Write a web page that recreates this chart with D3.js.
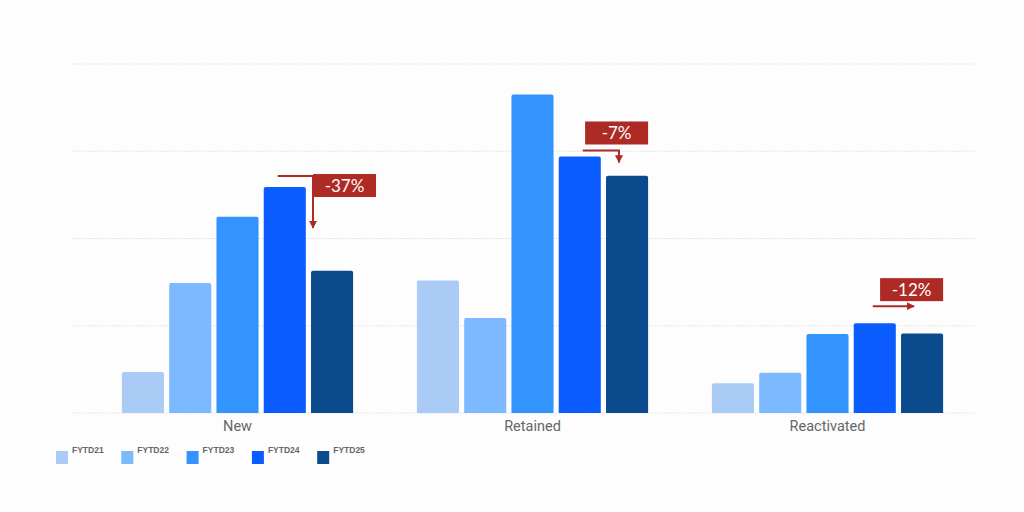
<!DOCTYPE html>
<html>
<head>
<meta charset="utf-8">
<script src="https://cdn.jsdelivr.net/npm/d3@7"></script>
<style>
  html, body { margin: 0; padding: 0; background: #fdfdfd; }
  #chart { width: 1024px; height: 512px; }
</style>
</head>
<body>
<div id="chart"></div>
<script>
// Grouped bars: customer counts by type, five fiscal years, with YoY callouts.
var categories = ['New', 'Retained', 'Reactivated'];
var seriesNames = ['FYTD21', 'FYTD22', 'FYTD23', 'FYTD24', 'FYTD25'];
var seriesColors = ['#a9cbf5', '#7cb9ff', '#3393ff', '#0a5cff', '#0b4a8c'];

// one array per series, in category order
var fytd21 = [0.47, 1.52, 0.34];
var fytd22 = [1.49, 1.09, 0.46];
var fytd23 = [2.25, 3.65, 0.905];
var fytd24 = [2.59, 2.94, 1.03];
var fytd25 = [1.63, 2.72, 0.91];
var seriesValues = [fytd21, fytd22, fytd23, fytd24, fytd25];

var gridTicks = [0, 1, 2, 3, 4];

// change callouts, FYTD24 -> FYTD25
var calloutLabels = ['-37%', '-7%', '-12%'];
var calloutKinds = ['down', 'down', 'right'];

(function () {
    var W = 1024, H = 512;
    var svg = d3.select('#chart').append('svg')
        .attr('width', W).attr('height', H);

    var baseY = 413, topY = 64;
    var y = d3.scaleLinear().domain([0, 4]).range([baseY, topY]);
    var x0 = d3.scaleBand().domain(categories).range([90, 975]);
    var innerW = 47.3 * 4 + 42;
    var x1 = d3.scaleBand().domain(seriesNames)
        .range([x0.bandwidth() / 2 - innerW / 2, x0.bandwidth() / 2 + innerW / 2])
        .paddingInner(0.11);

    // dotted gridlines
    svg.append('g').selectAll('line')
        .data(gridTicks)
        .join('line')
        .attr('x1', 73).attr('x2', 975)
        .attr('y1', function (d) { return y(d); })
        .attr('y2', function (d) { return y(d); })
        .attr('stroke', '#dedede')
        .attr('stroke-width', 1)
        .attr('stroke-dasharray', '1.5,1.5');

    // bars
    var groups = svg.append('g').selectAll('g')
        .data(categories)
        .join('g')
        .attr('transform', function (d) { return 'translate(' + x0(d) + ',0)'; });

    groups.selectAll('path')
        .data(function (c, ci) {
            return seriesNames.map(function (s, si) {
                return { s: s, v: seriesValues[si][ci], color: seriesColors[si] };
            });
        })
        .join('path')
        .attr('fill', function (d) { return d.color; })
        .attr('d', function (d) {
            var bx = x1(d.s), bw = x1.bandwidth();
            var by = y(d.v), r = 2;
            return 'M' + bx + ',' + baseY +
                'V' + (by + r) +
                'Q' + bx + ',' + by + ' ' + (bx + r) + ',' + by +
                'H' + (bx + bw - r) +
                'Q' + (bx + bw) + ',' + by + ' ' + (bx + bw) + ',' + (by + r) +
                'V' + baseY + 'Z';
        });

    // category labels
    svg.append('g').selectAll('text')
        .data(categories)
        .join('text')
        .attr('x', function (d) { return x0(d) + x0.bandwidth() / 2; })
        .attr('y', 431)
        .attr('text-anchor', 'middle')
        .attr('font-family', 'Roboto, "Noto Sans", sans-serif')
        .attr('font-size', 14.5)
        .attr('fill', '#666')
        .text(function (d) { return d; });

    // callouts
    var red = '#ad2a25';
    var defs = svg.append('defs');
    defs.append('marker')
        .attr('id', 'ah')
        .attr('viewBox', '0 0 10 10')
        .attr('refX', 9).attr('refY', 5)
        .attr('markerWidth', 4).attr('markerHeight', 4)
        .attr('orient', 'auto')
        .append('path').attr('d', 'M0,0L10,5L0,10Z').attr('fill', red);

    var cg = svg.append('g');
    categories.forEach(function (c, i) {
        var gx = x0(c);
        var b24 = gx + x1('FYTD24'), b25 = gx + x1('FYTD25');
        var bw = x1.bandwidth();
        var top24 = y(fytd24[i]);
        var label = calloutLabels[i];
        var boxW = 63, boxH = 23;
        var lineY, pts, bx, by;
        if (calloutKinds[i] === 'down' && i === 0) {
            lineY = top24 - 11;
            var vx = b25 + 2;
            pts = [[b24 + 14, lineY], [vx, lineY], [vx, lineY + 52]];
            bx = vx; by = lineY - 2;
        } else if (calloutKinds[i] === 'down') {
            lineY = top24 - 6;
            var vx2 = b25 + 13;
            pts = [[b24 + 24, lineY], [vx2, lineY], [vx2, lineY + 12]];
            bx = b25 + bw - boxW; by = lineY - 6 - boxH;
        } else {
            lineY = top24 - 17;
            pts = [[b24 + 19, lineY], [b25 + 13, lineY]];
            bx = b25 + bw - boxW; by = lineY - 5 - boxH;
        }
        cg.append('rect')
            .attr('x', bx).attr('y', by)
            .attr('width', boxW).attr('height', boxH)
            .attr('fill', red);
        cg.append('text')
            .attr('x', bx + boxW / 2).attr('y', by + boxH / 2 + 6)
            .attr('text-anchor', 'middle')
            .attr('font-family', 'Lato, sans-serif')
            .attr('font-size', 17)
            .attr('fill', '#fff')
            .text(label);
        cg.append('path')
            .attr('d', d3.line()(pts))
            .attr('fill', 'none')
            .attr('stroke', red)
            .attr('stroke-width', 2)
            .attr('marker-end', 'url(#ah)');
    });

    // legend
    var lg = svg.append('g').selectAll('g')
        .data(seriesNames)
        .join('g')
        .attr('transform', function (d, i) { return 'translate(' + (56 + i * 65.3) + ',451)'; });
    lg.append('rect')
        .attr('width', 12).attr('height', 13)
        .attr('fill', function (d, i) { return seriesColors[i]; });
    lg.append('text')
        .attr('x', 16).attr('y', 2)
        .attr('font-family', '"Liberation Sans", Arial, sans-serif')
        .attr('font-weight', 'bold')
        .attr('font-size', 8.5)
        .attr('fill', '#666')
        .text(function (d) { return d; });
})();
</script>
</body>
</html>
